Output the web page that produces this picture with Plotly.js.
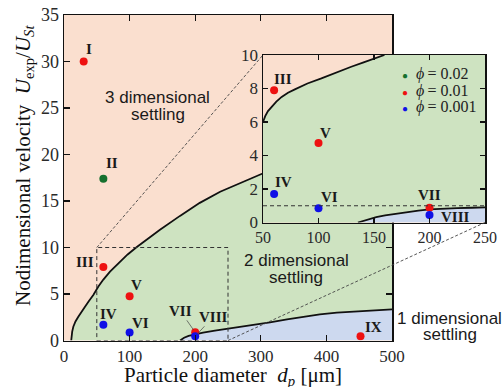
<!DOCTYPE html>
<html>
<head>
<meta charset="utf-8">
<script src="https://cdn.plot.ly/plotly-3.0.1.min.js"></script>
<style>html,body{margin:0;padding:0;background:#fff;}#chart{width:504px;height:387px;}</style>
</head>
<body>
<div id="chart"></div>
<script>
// ---------------- data ----------------
const mainXRange = [0, 500];
const mainYRange = [0, 35];
const insetXRange = [50, 250];
const insetYRange = [0, 10];

const pointD     = [30, 60, 60, 100, 60, 100, 200, 200, 452];
const pointU     = [30, 17.4, 7.9, 4.75, 1.7, 0.85, 0.88, 0.45, 0.45];
const pointLabel = ['I', 'II', 'III', 'V', 'IV', 'VI', 'VII', 'VIII', 'IX'];
const pointPhi   = [0.01, 0.02, 0.01, 0.01, 0.001, 0.001, 0.01, 0.001, 0.01];
const phiLevels  = [0.02, 0.01, 0.001];

// 3D / 2D boundary (main panel)
const b32MainD = [11, 11.5, 12.5, 14.2, 17.5, 21.8, 26.5, 32, 38, 44.7, 52.4, 60, 70.1, 85.4, 97, 110, 128, 146.3, 176.8, 207, 238, 273, 301, 350, 400, 450, 500];
const b32MainU = [0, 0.45, 0.95, 1.48, 2.05, 2.56, 3.1, 3.63, 4.25, 4.9, 5.8, 6.55, 7.4, 8.5, 9.25, 10.0, 10.95, 11.9, 13.4, 14.8, 16.0, 17.1, 17.9, 19.2, 20.4, 21.5, 22.5];
// 2D / 1D boundary (main panel)
const b21MainD = [177, 183, 190, 200, 212, 230, 253, 280, 314, 340, 365, 390, 416, 440, 460, 480, 500];
const b21MainU = [0, 0.3, 0.5, 0.68, 0.84, 1.07, 1.3, 1.62, 1.95, 2.27, 2.56, 2.8, 3.0, 3.12, 3.2, 3.28, 3.35];
// 3D / 2D boundary (inset)
const b32InsetD = [50, 52, 54.5, 57.8, 62, 66.8, 72.5, 78.7, 90, 102.6, 116, 129.5, 140, 148.8, 154, 159.4];
const b32InsetU = [6.0, 6.35, 6.65, 6.9, 7.22, 7.5, 7.75, 7.95, 8.3, 8.6, 8.97, 9.3, 9.55, 9.75, 9.87, 10];
// 2D / 1D boundary (inset)
const b21InsetD = [135.5, 140, 145, 152, 160, 170, 180, 190, 200, 212, 225, 238, 250];
const b21InsetU = [0, 0.1, 0.2, 0.32, 0.42, 0.53, 0.62, 0.71, 0.78, 0.83, 0.86, 0.88, 0.9];
// reference line U_exp/U_St = 1 (inset)
const refLineU = 1;

// ---------------- style ----------------
const phiColor = {0.02: '#16702e', 0.01: '#ee1111', 0.001: '#1010e6'};
const cSalmon = '#fadfcf', cGreen = '#cee3c1', cBlue = '#cdd9ef';
const serif = 'Liberation Serif';
const sans = 'Liberation Sans';

const dom = {
  x:  [64/504, 392/504],
  y:  [46.5/387, 372/387],
  x2: [263/504, 485/504],
  y2: [164.5/387, 332/387]
};
function toPaper(d, r, v) { return d[0] + (v - r[0]) / (r[1] - r[0]) * (d[1] - d[0]); }

// label offsets in px (dx right, dy down)
const mainOff = {I:[5.6,-12.2], II:[8.3,-15.4], III:[-18.4,-5.3], V:[7,-11.3], IV:[5,-10.7],
                 VI:[10.4,-10], VII:[-15,-21.5], VIII:[18,-19.5], IX:[13.4,-9]};
const insetOff = {III:[9.2,-10.9], V:[6.5,-9.6], IV:[9.2,-12.3], VI:[10.8,-11], VII:[0,-12.3], VIII:[25.5,1.7]};
const leader = {VII:true, VIII:true};

// ---------------- traces ----------------
const traces = [];
const bLine = {color:'#111', width:1.8};
// main regions
traces.push({x: b32MainD.concat([mainXRange[1]], b21MainD.slice().reverse()),
             y: b32MainU.concat([b21MainU[b21MainU.length-1]], b21MainU.slice().reverse()),
             xaxis:'x', yaxis:'y', mode:'lines', fill:'toself', fillcolor:cGreen, line:{width:0}, hoverinfo:'skip'});
traces.push({x: b21MainD.concat([mainXRange[1]]), y: b21MainU.concat([mainYRange[0]]),
             xaxis:'x', yaxis:'y', mode:'lines', fill:'toself', fillcolor:cBlue, line:{width:0}, hoverinfo:'skip'});
traces.push({x: b32MainD, y: b32MainU, xaxis:'x', yaxis:'y', mode:'lines', line:bLine});
traces.push({x: b21MainD, y: b21MainU, xaxis:'x', yaxis:'y', mode:'lines', line:bLine});

// inset regions
traces.push({x: b32InsetD.concat([insetXRange[1]], b21InsetD.slice().reverse(), [insetXRange[0]]),
             y: b32InsetU.concat([insetYRange[1]], b21InsetU.slice().reverse(), [insetYRange[0]]),
             xaxis:'x2', yaxis:'y2', mode:'lines', fill:'toself', fillcolor:cGreen, line:{width:0}, hoverinfo:'skip'});
traces.push({x: b21InsetD.concat([insetXRange[1]]), y: b21InsetU.concat([insetYRange[0]]),
             xaxis:'x2', yaxis:'y2', mode:'lines', fill:'toself', fillcolor:cBlue, line:{width:0}, hoverinfo:'skip'});
traces.push({x: b32InsetD, y: b32InsetU, xaxis:'x2', yaxis:'y2', mode:'lines', line:bLine});
traces.push({x: b21InsetD, y: b21InsetU, xaxis:'x2', yaxis:'y2', mode:'lines', line:bLine});

// points
const inInset = (d, u) => d >= insetXRange[0] && d <= insetXRange[1] && u >= insetYRange[0] && u <= insetYRange[1];
phiLevels.forEach(p => {
  const idx = pointPhi.map((v, i) => v === p ? i : -1).filter(i => i >= 0);
  traces.push({x: idx.map(i => pointD[i]), y: idx.map(i => pointU[i]), xaxis:'x', yaxis:'y',
               mode:'markers', marker:{color: phiColor[p], size:8}});
  const idx2 = idx.filter(i => inInset(pointD[i], pointU[i]));
  traces.push({x: idx2.map(i => pointD[i]), y: idx2.map(i => pointU[i]), xaxis:'x2', yaxis:'y2',
               mode:'markers', marker:{color: phiColor[p], size:8}});
});

// ---------------- annotations ----------------
const ann = [];
const numFont = {family: serif, size: 15, color: '#1a1a1a'};
pointLabel.forEach((lab, i) => {
  const o = mainOff[lab];
  if (leader[lab]) {
    ann.push({x: pointD[i], y: pointU[i], xref:'x', yref:'y', text:'<b>'+lab+'</b>', showarrow:true,
              ax:o[0], ay:o[1], arrowhead:0, arrowwidth:0.7, arrowcolor:'#444', standoff:3, font:numFont});
  } else {
    ann.push({x: pointD[i], y: pointU[i], xref:'x', yref:'y', text:'<b>'+lab+'</b>', showarrow:false,
              xshift:o[0], yshift:-o[1], font:numFont});
  }
  if (inInset(pointD[i], pointU[i]) && insetOff[lab]) {
    const q = insetOff[lab];
    ann.push({x: pointD[i], y: pointU[i], xref:'x2', yref:'y2', text:'<b>'+lab+'</b>', showarrow:false,
              xshift:q[0], yshift:-q[1], font:numFont});
  }
});

function px(xp, yp) { return {x: xp/504, y: (387 - yp)/387}; }
function label(text, xp, yp, font, extra) {
  const p = px(xp, yp);
  return Object.assign({xref:'paper', yref:'paper', x:p.x, y:p.y, text:text, showarrow:false,
                        xanchor:'center', yanchor:'middle', font:font}, extra || {});
}
const regFont = {family: sans, size: 17, color: '#1a1a1a'};
ann.push(label('3 dimensional', 157.5, 97.5, regFont));
ann.push(label('settling', 157.7, 114.5, regFont));
ann.push(label('2 dimensional', 296, 260.5, regFont));
ann.push(label('settling', 296, 277.5, regFont));
ann.push(label('1 dimensional', 449, 318, regFont));
ann.push(label('settling', 450, 334, regFont));

// legend
const legRows = [74.3, 91, 106.7];
phiLevels.forEach((p, k) => {
  ann.push(label('<span style="color:' + phiColor[p] + ';font-size:10px">\u25CF</span>\u2002<i>\u03D5</i>\u2009= ' + p,
                 400, legRows[k], {family: serif, size: 16, color: '#222'}, {xanchor:'left'}));
});

// axis titles
ann.push(label('Particle diameter\u00a0\u00a0<i>d</i><sub><i>p</i></sub> [\u03BCm]', 232.5, 376,
               {family: serif, size: 21, color: '#111'}));
ann.push(label('Nodimensional velocity\u00a0\u00a0<i>U</i><sub>exp</sub>/<i>U</i><sub><i>St</i></sub>', 24, 166,
               {family: serif, size: 21, color: '#111'}, {textangle: -90}));

// ---------------- shapes ----------------
const shapes = [];
const dashLine = {color:'#333', width:1, dash:'4px,3px'};
shapes.push({type:'rect', xref:'x', yref:'y', x0: insetXRange[0], x1: insetXRange[1], y0: insetYRange[0], y1: insetYRange[1],
             line: dashLine, layer:'above'});
shapes.push({type:'line', xref:'x2', yref:'y2', x0: insetXRange[0], x1: insetXRange[1], y0: refLineU, y1: refLineU,
             line: dashLine, layer:'above'});
// connector lines
shapes.push({type:'line', xref:'paper', yref:'paper',
             x0: toPaper(dom.x, mainXRange, insetXRange[0]), y0: toPaper(dom.y, mainYRange, insetYRange[1]),
             x1: toPaper(dom.x2, insetXRange, insetXRange[0]), y1: toPaper(dom.y2, insetYRange, insetYRange[1]),
             line:{color:'#444', width:0.9, dash:'3px,2px'}, layer:'above'});
shapes.push({type:'line', xref:'paper', yref:'paper',
             x0: toPaper(dom.x, mainXRange, insetXRange[1]), y0: toPaper(dom.y, mainYRange, insetYRange[0]),
             x1: toPaper(dom.x2, insetXRange, insetXRange[1]), y1: toPaper(dom.y2, insetYRange, insetYRange[0]),
             line:{color:'#444', width:0.9, dash:'3px,2px'}, layer:'above'});

// ---------------- layout ----------------
const axBase = {ticks:'inside', tickcolor:'#111', tickwidth:1.2, showline:true, linecolor:'#111', linewidth:1.5,
                mirror:'ticks', showgrid:false, zeroline:false, fixedrange:true};
const layout = {
  width: 504, height: 387, margin:{l:0, r:0, t:0, b:0}, paper_bgcolor:'#ffffff', plot_bgcolor: cSalmon,
  showlegend:false, font:{family: serif, size:16, color:'#2a2a2a'},
  xaxis: Object.assign({}, axBase, {domain: dom.x, range: mainXRange, tick0:0, dtick:100, ticklen:6, anchor:'y',
                                    tickfont:{family: serif, size:17, color:'#2a2a2a'}}),
  yaxis: Object.assign({}, axBase, {domain: dom.y, range: mainYRange, tick0:0, dtick:5, ticklen:6, anchor:'x',
                                    tickfont:{family: serif, size:18, color:'#2a2a2a'}}),
  xaxis2: Object.assign({}, axBase, {domain: dom.x2, range: insetXRange, tick0:50, dtick:50, ticklen:5, anchor:'y2',
                                     tickfont:{family: serif, size:16, color:'#2a2a2a'}}),
  yaxis2: Object.assign({}, axBase, {domain: dom.y2, range: insetYRange, tick0:0, dtick:2, ticklen:5, anchor:'x2',
                                     tickfont:{family: serif, size:17, color:'#2a2a2a'}}),
  shapes: shapes, annotations: ann
};

Plotly.newPlot('chart', traces, layout, {staticPlot:true, displayModeBar:false});
</script>
</body>
</html>
